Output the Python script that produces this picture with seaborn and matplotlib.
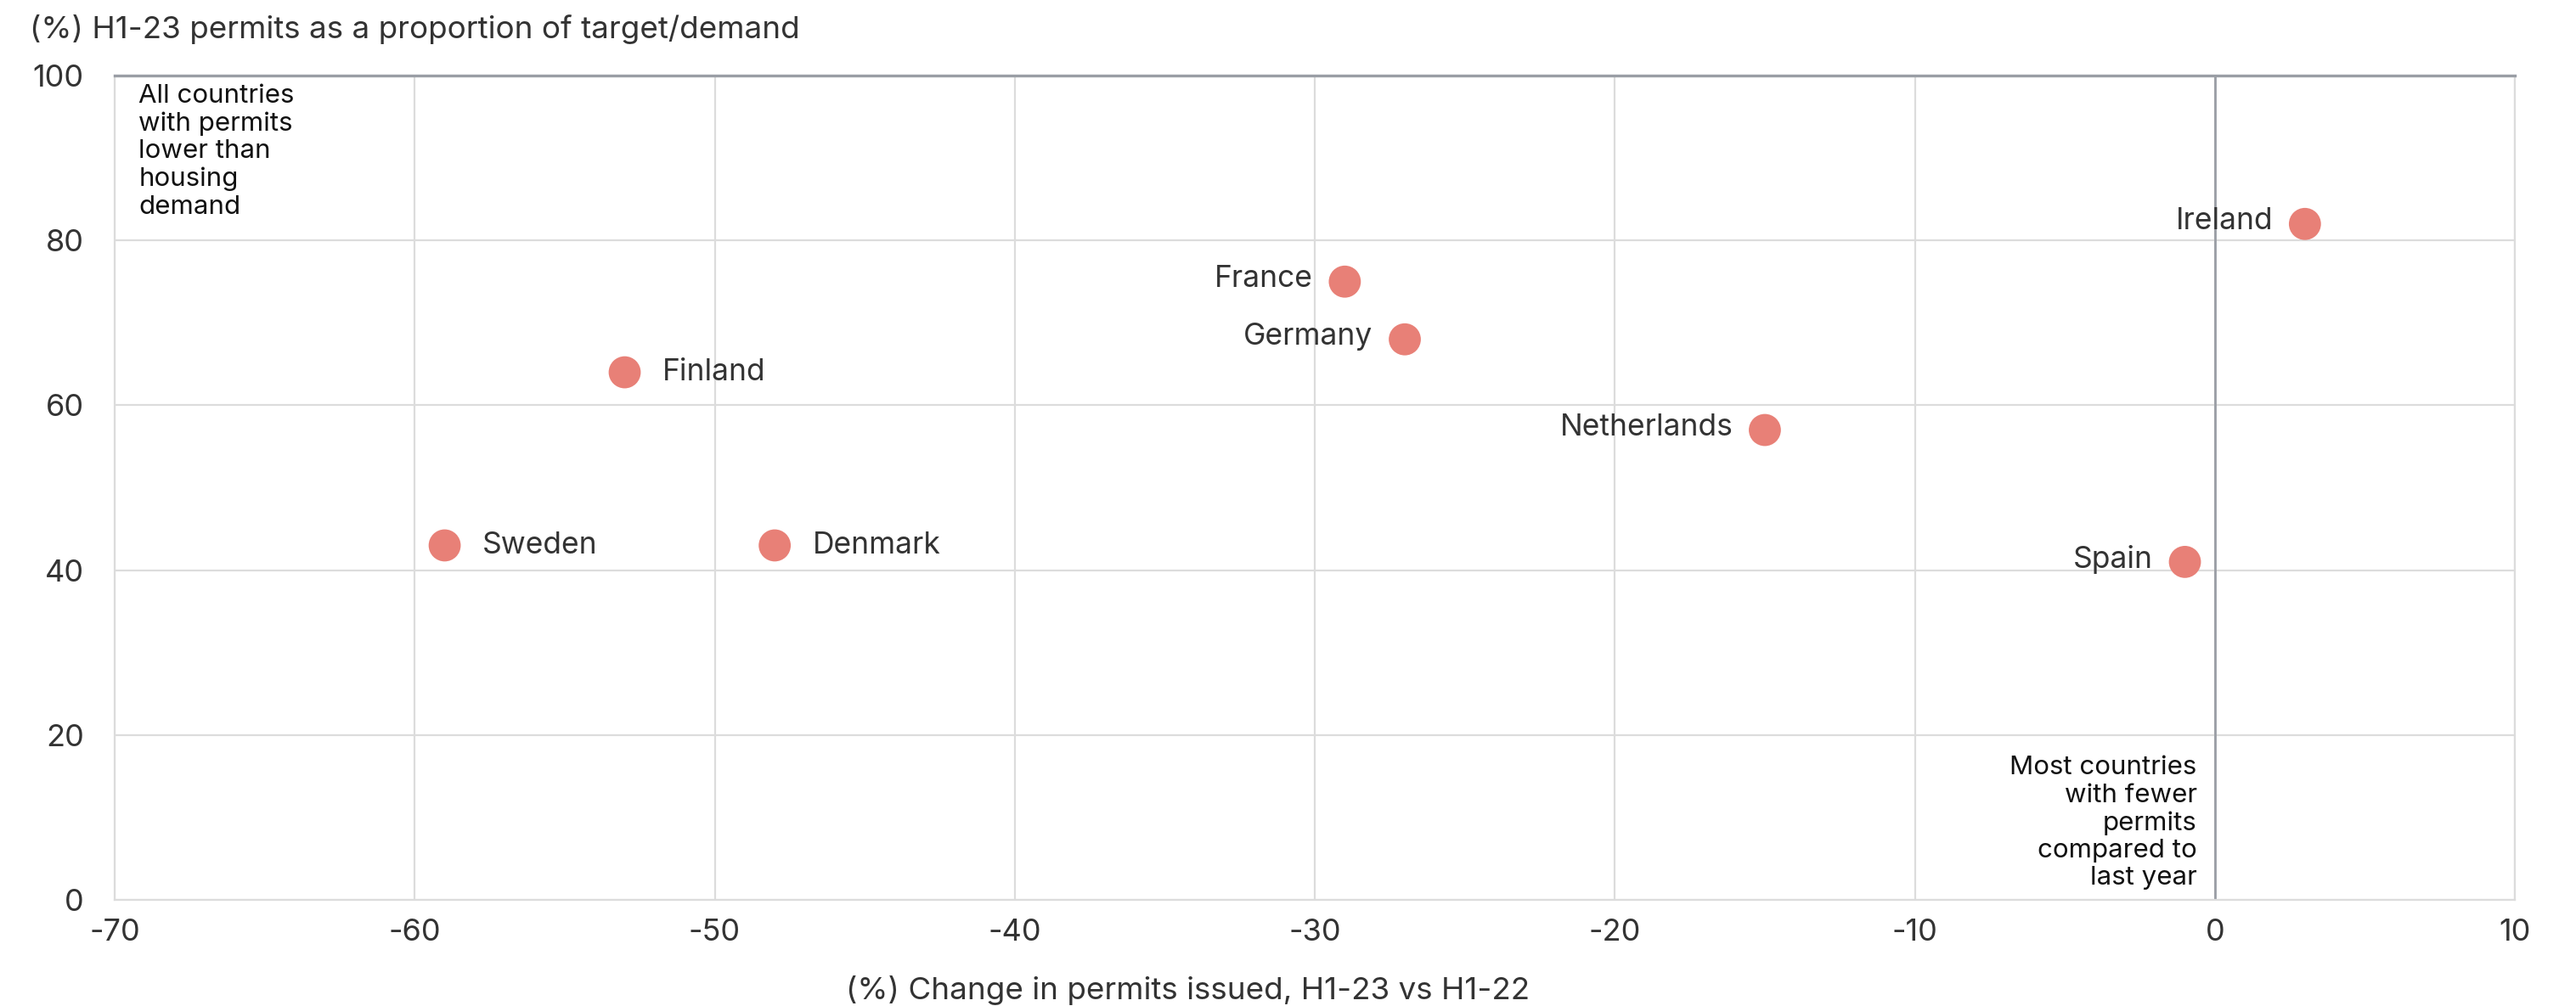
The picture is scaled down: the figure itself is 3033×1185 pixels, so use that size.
import matplotlib
matplotlib.use("Agg")
import matplotlib.pyplot as plt
import seaborn as sns
import pandas as pd

# Housing permits by country
countries = ["Sweden", "Finland", "Denmark", "France", "Germany", "Netherlands", "Spain", "Ireland"]
change_pct = [-59, -53, -48, -29, -27, -15, -1, 3]
share_of_target = [43, 64, 43, 75, 68, 57, 41, 82]
label_side = ["right", "right", "right", "left", "left", "left", "left", "left"]

x_ticks = [-70, -60, -50, -40, -30, -20, -10, 0, 10]
y_ticks = [0, 20, 40, 60, 80, 100]

df = pd.DataFrame({"country": countries, "change": change_pct, "share": share_of_target})

sns.set_theme(style="white")
plt.rcParams["font.family"] = ["Inter", "DejaVu Sans"]
plt.rcParams["axes.unicode_minus"] = False

fig = plt.figure(figsize=(30.33, 11.85), dpi=100)
ax = fig.add_axes([0.0445, 0.1055, 0.9318, 0.8194])

point_color = "#E88077"
sns.scatterplot(data=df, x="change", y="share", ax=ax, s=740, color=point_color,
                edgecolor="none", zorder=3, legend=False)

ax.set_xlim(-70, 10)
ax.set_ylim(0, 100)
ax.set_xticks(x_ticks)
ax.set_yticks(y_ticks)
ax.set_xticklabels([str(v) for v in x_ticks])
ax.set_yticklabels([str(v) for v in y_ticks])
ax.grid(True, color="#dcdcdc", linewidth=1.6, zorder=0)
ax.set_axisbelow(True)

for side in ["left", "right", "bottom"]:
    ax.spines[side].set_visible(True)
    ax.spines[side].set_color("#dcdcdc")
    ax.spines[side].set_linewidth(1.6)
ax.spines["top"].set_color("#9a9ea5")
ax.spines["top"].set_linewidth(2.4)
ax.axvline(0, color="#9a9ea5", linewidth=2.0, zorder=1)

ax.tick_params(axis="both", length=0, labelsize=26, labelcolor="#333333")
ax.tick_params(axis="x", pad=16)
ax.tick_params(axis="y", pad=26)
ax.set_xlabel("")
ax.set_ylabel("")

# Country labels beside their points
for name, xv, yv, side in zip(countries, change_pct, share_of_target, label_side):
    if side == "right":
        ax.annotate(name, (xv, yv), xytext=(32, 0), textcoords="offset points",
                    ha="left", va="center", fontsize=25.5, color="#333333")
    else:
        ax.annotate(name, (xv, yv), xytext=(-27, 2), textcoords="offset points",
                    ha="right", va="center", fontsize=25.5, color="#333333")

ax.text(-69.2, 99, "All countries\nwith permits\nlower than\nhousing\ndemand",
        ha="left", va="top", fontsize=22.5, color="#111111", linespacing=1.2)
ax.text(-0.6, 1.2, "Most countries\nwith fewer\npermits\ncompared to\nlast year",
        ha="right", va="bottom", fontsize=22.5, color="#111111", linespacing=1.2)

fig.text(0.0115, 0.971, "(%) H1-23 permits as a proportion of target/demand",
         ha="left", va="center", fontsize=26.5, color="#333333")
fig.text(0.3285, 0.016, "(%) Change in permits issued, H1-23 vs H1-22",
         ha="left", va="center", fontsize=26.5, color="#333333")

fig.savefig("out.png", dpi=100, facecolor="white")
